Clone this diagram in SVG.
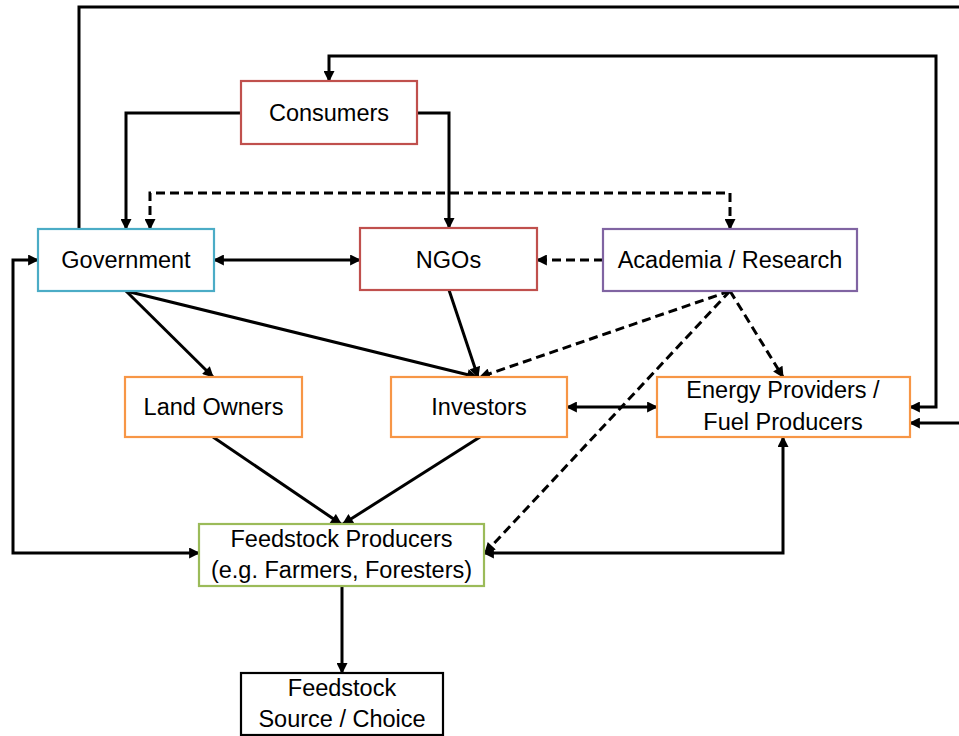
<svg xmlns="http://www.w3.org/2000/svg" width="959" height="736" viewBox="0 0 959 736">
<defs>
<marker id="ah" viewBox="0 0 10 10" refX="9" refY="5" markerWidth="12" markerHeight="11" markerUnits="userSpaceOnUse" orient="auto-start-reverse">
<path d="M0,0 L10,5 L0,10 z" fill="#000"/>
</marker>
<style>
.box{fill:#fff;stroke-width:2.2}
.t{font-family:"Liberation Sans",Arial,sans-serif;font-size:23.5px;fill:#000;text-anchor:middle}
.c{fill:none;stroke:#000;stroke-width:3}
.d{stroke-dasharray:9 5}
.e{marker-end:url(#ah)}
.s{marker-start:url(#ah)}
</style>
</defs>
<rect width="959" height="736" fill="#fff"/>
<g id="connectors">
<path class="c e" d="M79,229 V7 H965 V423 H910"/>
<path class="c s e" d="M910,407 H936 V56 H329 V81"/>
<path class="c e" d="M241,113 H126 V229"/>
<path class="c e" d="M417,113 H449 V228"/>
<path class="c d s e" d="M150,229 V193 H730 V229"/>
<path class="c s e" d="M214,260 H360"/>
<path class="c d e" d="M603,260 H537"/>
<path class="c e" d="M126,291 L213,377"/>
<path class="c e" d="M126,291 L477,377"/>
<path class="c e" d="M449,290 L478,377"/>
<path class="c d e" d="M730,291 L480,377"/>
<path class="c d e" d="M730,291 L485,553"/>
<path class="c d e" d="M730,291 L783,377"/>
<path class="c s e" d="M567,407 H657"/>
<path class="c e" d="M213,437 L341,524"/>
<path class="c e" d="M480,437 L343,524"/>
<path class="c s e" d="M38,260 H13 V553 H199"/>
<path class="c s e" d="M484,553 H783 V437"/>
<path class="c e" d="M342,586 V673"/>
</g>
<g id="consumers">
<rect class="box" x="241" y="81" width="176" height="63" stroke="#C0504D"/>
<text class="t" x="329" y="121">Consumers</text>
</g>
<g id="government">
<rect class="box" x="38" y="229" width="176" height="62" stroke="#4BACC6"/>
<text class="t" x="126" y="268">Government</text>
</g>
<g id="ngos">
<rect class="box" x="360" y="228" width="177" height="62" stroke="#C0504D"/>
<text class="t" x="448.5" y="268">NGOs</text>
</g>
<g id="academia">
<rect class="box" x="603" y="229" width="254" height="62" stroke="#8064A2"/>
<text class="t" x="730" y="268">Academia / Research</text>
</g>
<g id="landowners">
<rect class="box" x="125" y="377" width="177" height="60" stroke="#F79646"/>
<text class="t" x="213.5" y="415">Land Owners</text>
</g>
<g id="investors">
<rect class="box" x="391" y="377" width="176" height="60" stroke="#F79646"/>
<text class="t" x="479" y="415">Investors</text>
</g>
<g id="energy">
<rect class="box" x="657" y="377" width="253" height="60" stroke="#F79646"/>
<text class="t" x="783" y="398">Energy Providers /</text>
<text class="t" x="783" y="430">Fuel Producers</text>
</g>
<g id="feedstock-producers">
<rect class="box" x="199" y="524" width="285" height="62" stroke="#9BBB59"/>
<text class="t" x="341.5" y="547">Feedstock Producers</text>
<text class="t" x="341.5" y="578">(e.g. Farmers, Foresters)</text>
</g>
<g id="feedstock-source">
<rect class="box" x="241" y="673" width="202" height="62" stroke="#000"/>
<text class="t" x="342" y="696">Feedstock</text>
<text class="t" x="342" y="727">Source / Choice</text>
</g>
</svg>
